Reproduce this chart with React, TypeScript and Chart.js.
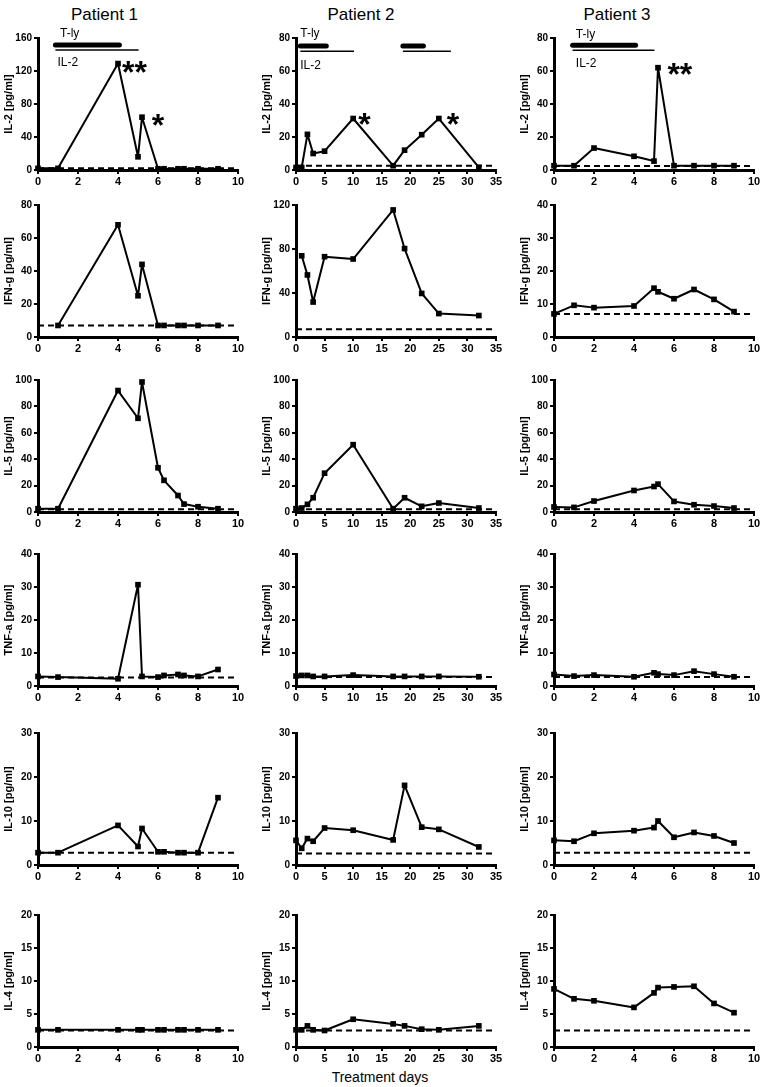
import React, { useEffect, useRef } from "react";
import { Chart, registerables } from "chart.js";

Chart.register(...registerables);

const FONT = "'Liberation Sans', Arial, Helvetica, sans-serif";

// ---------- x values: treatment days ----------
const daysP1 = [0, 1, 4, 5, 5.2, 6, 6.3, 7, 7.3, 8, 9];
const daysP2 = [0, 1, 2, 3, 5, 10, 17, 19, 22, 25, 32];
const daysP3 = [0, 1, 2, 4, 5, 5.2, 6, 7, 8, 9];

// ---------- IL-2 ----------
const il2P1 = [2, 2, 129, 16, 64, 1.5, 1.5, 1.5, 1.5, 1.5, 1.5];
const il2P2 = [1.5, 1.5, 21.6, 10, 11.4, 31.2, 2.6, 12, 21.4, 31.2, 1.6];
const il2P3 = [2.6, 2.6, 13.3, 8.3, 5.4, 62, 2.6, 2.6, 2.6, 2.6];
// ---------- IFN-g ----------
const ifngP1 = [null, 7, 68, 25, 44, 7, 7, 7, 7, 7, 7];
const ifngP2 = [null, 73.8, 56.4, 31.8, 73, 70.9, 115.5, 80.4, 39.6, 21.3, 19.5];
const ifngP3 = [7, 9.6, 8.9, 9.4, 14.8, 13.7, 11.6, 14.4, 11.4, 7.7];
// ---------- IL-5 ----------
const il5P1 = [2.5, 2.5, 92, 71, 98.5, 33.5, 24, 12.5, 6, 4, 2.5];
const il5P2 = [2.5, 3, 5.8, 10.8, 29.4, 51, 2.5, 10.8, 4.3, 6.8, 3];
const il5P3 = [3.8, 3.5, 8.3, 16.3, 19.3, 21.1, 8, 5.5, 4.5, 3];
// ---------- TNF-a ----------
const tnfP1 = [2.9, 2.7, 2.2, 30.7, 2.9, 2.7, 3.2, 3.5, 3.2, 2.9, 5.0];
const tnfP2 = [3, 3.2, 3.2, 2.9, 2.9, 3.3, 2.9, 2.9, 2.9, 2.9, 2.8];
const tnfP3 = [3.5, 3, 3.3, 2.8, 4, 3.6, 3.3, 4.5, 3.6, 2.8];
// ---------- IL-10 ----------
const il10P1 = [2.8, 2.8, 9, 4.2, 8.3, 3, 3, 2.8, 2.8, 2.8, 15.3];
const il10P2 = [5.6, 3.8, 6, 5.4, 8.4, 7.9, 5.7, 18.1, 8.6, 8.1, 4.1];
const il10P3 = [5.6, 5.4, 7.2, 7.8, 8.5, 10, 6.3, 7.4, 6.6, 5];
// ---------- IL-4 ----------
const il4P1 = [2.6, 2.6, 2.6, 2.6, 2.6, 2.6, 2.6, 2.6, 2.6, 2.6, 2.6];
const il4P2 = [2.6, 2.6, 3.2, 2.6, 2.5, 4.2, 3.5, 3.2, 2.7, 2.6, 3.2];
const il4P3 = [8.8, 7.3, 7, 6, 8.2, 9, 9.1, 9.2, 6.6, 5.2];

// ---------- detection limits (dashed lines) ----------
const limitIL2 = [2, 2.6, 2.5];
const limitIFNG = [7, 7, 7];
const limitIL5 = [2, 2, 2];
const limitTNF = [2.6, 2.7, 2.7];
const limitIL10 = [2.8, 2.6, 2.8];
const limitIL4 = [2.5, 2.5, 2.5];
const limitEnd = [9.8, 34.5, 9.8];

// ---------- axis ranges ----------
const xMax = [10, 35, 10];
const xStep = [2, 5, 2];
const yMaxIL2 = [160, 80, 80];
const yStepIL2 = [40, 20, 20];
const yMaxIFNG = [80, 120, 40];
const yStepIFNG = [20, 40, 10];
const yMaxIL5 = [100, 100, 100];
const yStepIL5 = [20, 20, 20];
const yMaxTNF = [40, 40, 40];
const yStepTNF = [10, 10, 10];
const yMaxIL10 = [30, 30, 30];
const yStepIL10 = [10, 10, 10];
const yMaxIL4 = [20, 20, 20];
const yStepIL4 = [5, 5, 5];

// ---------- treatment bars (IL-2 row) ----------
const tlyBarsP1 = [[0.87, 4.07]];
const tlyBarsP2 = [[0.76, 5.3], [18.7, 22.3]];
const tlyBarsP3 = [[0.93, 4.08]];
const il2BarsP1 = [[0.87, 5.03]];
const il2BarsP2 = [[0.76, 10.15], [18.7, 27.1]];
const il2BarsP3 = [[0.93, 5.02]];
const tlyLevel = [151.6, 75.2, 75.6];
const il2Level = [145.5, 72, 72.6];

// ---------- text marks (IL-2 row) ----------
const tlyLabelAt = [[1.1, 166], [0.75, 83], [1.09, 82.8]];
const il2LabelAt = [[0.97, 131], [0.75, 63.6], [1.09, 65.3]];
const starsP1 = [["**", 4.2, 127], ["*", 5.69, 63]];
const starsP2 = [["*", 10.9, 32.1], ["*", 26.4, 32.1]];
const starsP3 = [["**", 5.67, 62.3]];

const patientTitles = ["Patient 1", "Patient 2", "Patient 3"];
const cytokineNames = ["IL-2", "IFN-g", "IL-5", "TNF-a", "IL-10", "IL-4"];
const xTitle = "Treatment days";

// ---------- layout ----------
const colAxisX = [38, 296, 554];
const rowTop = [38, 205, 380, 554, 733, 915];
const PLOT_W = 200;
const PLOT_H = 132;
const PAD_T = 20;
const PAD_R = 18;
const Y_AX_W = 37;
const X_AX_H = 22;
const titleCenters = [[104.5, 13.5], [361, 13.5], [617, 13.5]];
const xTitleCenter = [380, 1077];

const allDays = [daysP1, daysP2, daysP3];
const rowsDef = [
  { values: [il2P1, il2P2, il2P3], limit: limitIL2, yMax: yMaxIL2, yStep: yStepIL2 },
  { values: [ifngP1, ifngP2, ifngP3], limit: limitIFNG, yMax: yMaxIFNG, yStep: yStepIFNG },
  { values: [il5P1, il5P2, il5P3], limit: limitIL5, yMax: yMaxIL5, yStep: yStepIL5 },
  { values: [tnfP1, tnfP2, tnfP3], limit: limitTNF, yMax: yMaxTNF, yStep: yStepTNF },
  { values: [il10P1, il10P2, il10P3], limit: limitIL10, yMax: yMaxIL10, yStep: yStepIL10 },
  { values: [il4P1, il4P2, il4P3], limit: limitIL4, yMax: yMaxIL4, yStep: yStepIL4 },
];
const tlyBars = [tlyBarsP1, tlyBarsP2, tlyBarsP3];
const il2Bars = [il2BarsP1, il2BarsP2, il2BarsP3];
const starMarks = [starsP1, starsP2, starsP3];

type TextMark = { text: string; x: number; y: number; size: number; bold: boolean; capRatio: number };

function makeConfig(r: number, c: number) {
  const def = rowsDef[r];
  const days = allDays[c];
  const vals = def.values[c];
  const datasets: any[] = [];
  datasets.push({
    data: days.map((d, i) => ({ x: d, y: vals[i] })),
    borderColor: "#000",
    backgroundColor: "#000",
    borderWidth: 2,
    borderJoinStyle: "bevel",
    pointStyle: "rect",
    pointRadius: 4,
    pointBackgroundColor: "#000",
    pointBorderColor: "#000",
    pointBorderWidth: 0,
    tension: 0,
    clip: false,
    spanGaps: false,
  });
  datasets.push({
    data: [{ x: 0, y: def.limit[c] }, { x: limitEnd[c], y: def.limit[c] }],
    borderColor: "#000",
    borderWidth: 2,
    borderDash: [6, 4],
    pointRadius: 0,
    clip: false,
  });
  const texts: TextMark[] = [];
  if (r === 0) {
    tlyBars[c].forEach(([a, b]) => {
      datasets.push({
        data: [{ x: a, y: tlyLevel[c] }, { x: b, y: tlyLevel[c] }],
        borderColor: "#000",
        borderWidth: 5,
        borderCapStyle: "round",
        pointRadius: 0,
        clip: false,
      });
    });
    il2Bars[c].forEach(([a, b]) => {
      datasets.push({
        data: [{ x: a, y: il2Level[c] }, { x: b, y: il2Level[c] }],
        borderColor: "#000",
        borderWidth: 1.5,
        pointRadius: 0,
        clip: false,
      });
    });
    texts.push({ text: "T-ly", x: tlyLabelAt[c][0], y: tlyLabelAt[c][1], size: 12, bold: false, capRatio: 0.36 });
    texts.push({ text: "IL-2", x: il2LabelAt[c][0], y: il2LabelAt[c][1], size: 12, bold: false, capRatio: 0.36 });
    starMarks[c].forEach(([t, x, y]) => {
      texts.push({ text: t as string, x: x as number, y: y as number, size: 32, bold: true, capRatio: 0.56 });
    });
  }

  const textPlugin = {
    id: "panelText" + r + "_" + c,
    afterDatasetsDraw(chart: any) {
      const ctx = chart.ctx;
      const xs = chart.scales.x;
      const ys = chart.scales.y;
      ctx.save();
      ctx.fillStyle = "#000";
      ctx.textAlign = "left";
      ctx.textBaseline = "alphabetic";
      texts.forEach((t) => {
        ctx.font = `${t.bold ? "bold " : ""}${t.size}px ${FONT}`;
        const px = xs.getPixelForValue(t.x);
        const py = ys.getPixelForValue(t.y) + t.capRatio * t.size;
        ctx.fillText(t.text, px, py);
      });
      ctx.restore();
    },
  };

  const tickFont = { family: FONT, size: 10, weight: "bold" as const };
  return {
    type: "line" as const,
    data: { datasets },
    options: {
      animation: false,
      responsive: false,
      devicePixelRatio: 1,
      events: [],
      layout: { padding: { left: 0, top: PAD_T, right: PAD_R, bottom: 0 } },
      plugins: {
        legend: { display: false },
        tooltip: { enabled: false },
        title: { display: false },
      },
      scales: {
        x: {
          type: "linear",
          min: 0,
          max: xMax[c],
          offset: false,
          ticks: {
            stepSize: xStep[c],
            color: "#000",
            font: { family: FONT, size: 11, weight: "bold" },
            padding: 1,
            maxRotation: 0,
            autoSkip: false,
          },
          grid: { drawOnChartArea: false, drawTicks: true, tickLength: 4, color: "#000", lineWidth: 2 },
          border: { display: true, color: "#000", width: 3 },
          afterFit: (s: any) => {
            s.height = X_AX_H;
          },
        },
        y: {
          type: "linear",
          min: 0,
          max: def.yMax[c],
          ticks: {
            stepSize: def.yStep[c],
            color: "#000",
            font: tickFont,
            padding: 2,
            autoSkip: false,
          },
          title: {
            display: true,
            text: `${cytokineNames[r]} [pg/ml]`,
            color: "#000",
            font: { family: FONT, size: 11, weight: "bold" },
            padding: { top: 1, bottom: 0 },
          },
          grid: { drawOnChartArea: false, drawTicks: true, tickLength: 4, color: "#000", lineWidth: 2 },
          border: { display: true, color: "#000", width: 3 },
          afterFit: (s: any) => {
            s.width = Y_AX_W;
          },
        },
      },
    },
    plugins: [textPlugin],
  };
}

function Panel({ r, c }: { r: number; c: number }) {
  const ref = useRef<HTMLCanvasElement>(null);
  const w = Y_AX_W + PLOT_W + PAD_R;
  const h = PAD_T + PLOT_H + X_AX_H;
  useEffect(() => {
    if (!ref.current) return;
    const chart = new Chart(ref.current, makeConfig(r, c) as any);
    return () => chart.destroy();
  }, [r, c]);
  return (
    <canvas
      ref={ref}
      width={w}
      height={h}
      style={{
        position: "absolute",
        left: colAxisX[c] - Y_AX_W,
        top: rowTop[r] - PAD_T,
        width: w,
        height: h,
      }}
    />
  );
}

export default function App() {
  const panels: JSX.Element[] = [];
  for (let r = 0; r < rowsDef.length; r++) {
    for (let c = 0; c < 3; c++) {
      panels.push(<Panel key={`${r}-${c}`} r={r} c={c} />);
    }
  }
  return (
    <div
      style={{
        position: "absolute",
        left: 0,
        top: 0,
        width: 761,
        height: 1087,
        background: "#fff",
        overflow: "hidden",
        fontFamily: FONT,
      }}
    >
      {patientTitles.map((t, i) => (
        <div
          key={t}
          style={{
            position: "absolute",
            left: titleCenters[i][0],
            top: titleCenters[i][1],
            transform: "translate(-50%, -50%)",
            fontSize: 17,
            lineHeight: 1,
            whiteSpace: "nowrap",
            color: "#000",
          }}
        >
          {t}
        </div>
      ))}
      {panels}
      <div
        style={{
          position: "absolute",
          left: xTitleCenter[0],
          top: xTitleCenter[1],
          transform: "translate(-50%, -50%)",
          fontSize: 14,
          lineHeight: 1,
          whiteSpace: "nowrap",
          color: "#000",
        }}
      >
        {xTitle}
      </div>
    </div>
  );
}
